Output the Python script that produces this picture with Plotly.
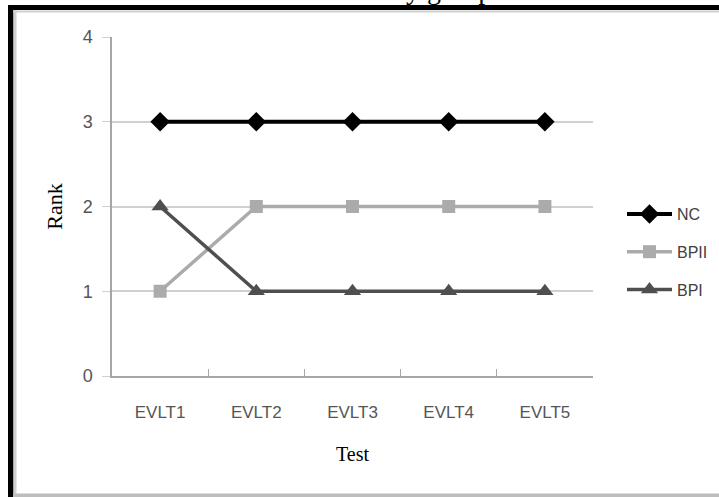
import plotly.graph_objects as go

categories = ["EVLT1", "EVLT2", "EVLT3", "EVLT4", "EVLT5"]
nc = [3, 3, 3, 3, 3]
bpii = [1, 2, 2, 2, 2]
bpi = [2, 1, 1, 1, 1]
y_ticks = [0, 1, 2, 3, 4]

W, H = 719, 497
L, R, T, B = 112, 593, 37, 376
pw, ph = R - L, B - T

def px(x):
    return (x - L) / pw

def py(y):
    return (B - y) / ph

fig = go.Figure()
fig.add_trace(go.Scatter(x=categories, y=nc, name="NC", mode="lines+markers",
                         line=dict(color="#000000", width=4),
                         marker=dict(symbol="diamond", size=15, color="#000000"),
                         legendgroup="a"))
fig.add_trace(go.Scatter(x=categories, y=bpii, name="BPII", mode="lines+markers",
                         line=dict(color="#ababab", width=3.5),
                         marker=dict(symbol="square", size=13, color="#ababab"),
                         legendgroup="b"))
fig.add_trace(go.Scatter(x=categories, y=bpi, name="BPI", mode="lines+markers",
                         line=dict(color="#4f4f4f", width=3.5),
                         marker=dict(symbol="triangle-up", size=15, color="#4f4f4f"),
                         legendgroup="c"))

shapes = [
    # black outer frame (top and left)
    dict(type="rect", xref="paper", yref="paper", x0=px(8), x1=px(725), y0=py(10), y1=py(5),
         fillcolor="#000000", line=dict(width=0), layer="above"),
    dict(type="rect", xref="paper", yref="paper", x0=px(8), x1=px(13.5), y0=py(505), y1=py(5),
         fillcolor="#000000", line=dict(width=0), layer="above"),
    # gray inner frame
    dict(type="line", xref="paper", yref="paper", x0=px(15), x1=px(15), y0=py(497), y1=py(10),
         line=dict(color="#cfcfcf", width=3), layer="above"),
    dict(type="line", xref="paper", yref="paper", x0=px(13), x1=px(725), y0=py(11.5), y1=py(11.5),
         line=dict(color="#d0d0d0", width=2), layer="above"),
    dict(type="line", xref="paper", yref="paper", x0=px(13), x1=px(725), y0=py(495.5), y1=py(495.5),
         line=dict(color="#bdbdbd", width=4), layer="above"),
]

fig.update_layout(
    width=W, height=H,
    margin=dict(l=L, r=W - R, t=T, b=H - B, pad=0, autoexpand=False),
    paper_bgcolor="white", plot_bgcolor="white",
    showlegend=True,
    legend=dict(xref="container", yref="container", x=622 / W, y=1 - 252 / H,
                xanchor="left", yanchor="middle",
                font=dict(family="Liberation Sans", size=16, color="#404040"),
                tracegroupgap=14, itemwidth=45, bgcolor="rgba(0,0,0,0)"),
    shapes=shapes,
    annotations=[dict(text="y group", xref="paper", yref="paper", x=px(494), y=py(7),
                      xanchor="right", yanchor="bottom", showarrow=False,
                      font=dict(family="Liberation Serif", size=28, color="#000000"))],
)

fig.update_xaxes(
    type="category", range=[-0.5, 4.5],
    tickson="boundaries", ticks="inside", ticklen=7, tickcolor="#a6a6a6",
    showline=True, linecolor="#a6a6a6", linewidth=1.5,
    showgrid=False, zeroline=False, automargin=False,
    ticklabelstandoff=20,
    tickfont=dict(family="Liberation Sans", size=17, color="#555555"),
    title=dict(text="Test", font=dict(family="Liberation Serif", size=20, color="#000000"), standoff=26),
    fixedrange=True,
)
fig.update_yaxes(
    range=[0, 4], tickvals=y_ticks, ticktext=[str(v) for v in y_ticks],
    ticks="outside", ticklen=8, tickcolor="#d0d0d0",
    showline=True, linecolor="#a6a6a6", linewidth=1.5,
    showgrid=True, gridcolor="#d0d0d0", gridwidth=1.5, zeroline=False, automargin=False,
    ticklabelstandoff=6,
    tickfont=dict(family="Liberation Sans", size=18, color="#555555"),
    title=dict(text="Rank", font=dict(family="Liberation Serif", size=22, color="#000000"), standoff=14),
    fixedrange=True,
)

fig.write_html("out.html", config={"displayModeBar": False},
               post_script="document.body.style.margin='0';")
